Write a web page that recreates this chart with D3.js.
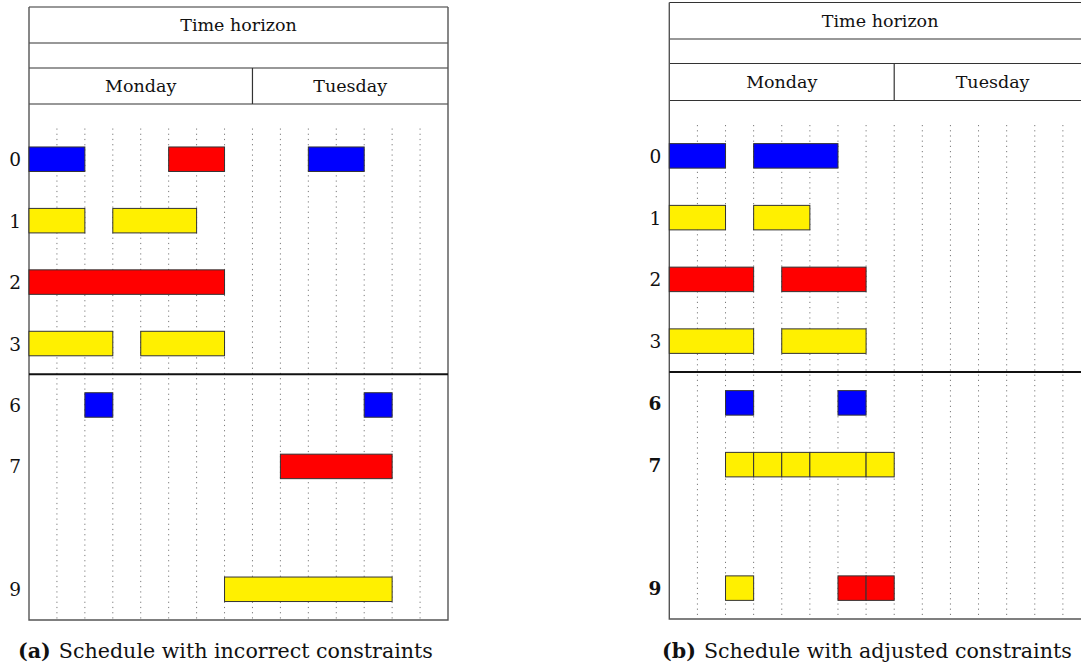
<!DOCTYPE html>
<html>
<head>
<meta charset="utf-8">
<script src="https://cdn.jsdelivr.net/npm/d3@7/dist/d3.min.js"></script>
<style>
  html, body { margin: 0; padding: 0; background: #fff; }
  svg { display: block; }
</style>
</head>
<body>
<div id="chart"></div>
<script>
/* ── Data ────────────────────────────────────────────────────────────── */
const SLOT_COUNT = 15;                       // time slots over the horizon
const DAYS       = ["Monday", "Tuesday"];
const DAY_SLOTS  = [8, 7];                   // slots per day
const ROW_ORDER  = ["0", "1", "2", "3", "6", "7", "8", "9"];   // "8" is an empty row
const ROW_LABELS = ["0", "1", "2", "3", "6", "7", "9"];
const SPLIT_BEFORE = "6";                    // thick line between groups

// [row, startSlot, endSlot, kind]
const TASKS_A = [
  ["0", 0, 2, "blue"], ["0", 5, 7, "red"], ["0", 10, 12, "blue"],
  ["1", 0, 2, "yellow"], ["1", 3, 6, "yellow"],
  ["2", 0, 7, "red"],
  ["3", 0, 3, "yellow"], ["3", 4, 7, "yellow"],
  ["6", 2, 3, "blue"], ["6", 12, 13, "blue"],
  ["7", 9, 13, "red"],
  ["9", 7, 13, "yellow"]
];
const TASKS_B = [
  ["0", 0, 2, "blue"], ["0", 3, 6, "blue"],
  ["1", 0, 2, "yellow"], ["1", 3, 5, "yellow"],
  ["2", 0, 3, "red"], ["2", 4, 7, "red"],
  ["3", 0, 3, "yellow"], ["3", 4, 7, "yellow"],
  ["6", 2, 3, "blue"], ["6", 6, 7, "blue"],
  ["7", 2, 3, "yellow"], ["7", 3, 4, "yellow"], ["7", 4, 5, "yellow"],
  ["7", 5, 7, "yellow"], ["7", 7, 8, "yellow"],
  ["9", 2, 3, "yellow"], ["9", 6, 7, "red"], ["9", 7, 8, "red"]
];
const CAPTION_A = ["(a)", "Schedule with incorrect constraints"];
const CAPTION_B = ["(b)", "Schedule with adjusted constraints"];

/* ── Setup ───────────────────────────────────────────────────────────── */
const W = 1081, H = 668;
const BAR_H = 24.5;
const FONT = 17.5;
const CAP_FONT = 20.6;
const SERIF = "'DejaVu Serif', serif";

const kindColor = d3.scaleOrdinal()
  .domain(["blue", "red", "yellow"])
  .range(["#0000ff", "#ff0000", "#fff000"]);

const svg = d3.select("#chart").append("svg")
  .attr("width", W).attr("height", H)
  .attr("viewBox", `0 0 ${W} ${H}`)
  .attr("font-family", SERIF)
  .style("font-family", SERIF);

function drawPanel(p) {
  const g = svg.append("g");
  const x = d3.scaleLinear().domain([0, SLOT_COUNT]).range([p.x0, p.x1]);
  const y = d3.scaleBand().domain(ROW_ORDER).range([p.gridTop, p.bottom]).padding(0);
  const yc = r => y(r) + y.bandwidth() / 2;

  // dotted slot lines
  g.append("g").selectAll("line")
    .data(d3.range(1, SLOT_COUNT))
    .join("line")
      .attr("x1", d => x(d)).attr("x2", d => x(d))
      .attr("y1", p.gridTop).attr("y2", p.bottom)
      .attr("stroke", "#7a7a7a").attr("stroke-width", 1)
      .attr("stroke-dasharray", "1.2,4");

  // header rows
  const hl = [p.top, p.h1, p.h2, p.h3];
  g.append("g").selectAll("line")
    .data(hl)
    .join("line")
      .attr("x1", p.x0).attr("x2", p.x1)
      .attr("y1", d => d).attr("y2", d => d)
      .attr("stroke", "#333").attr("stroke-width", 1.2);

  // day divider + labels
  const dayStart = d3.cumsum([0].concat(DAY_SLOTS));
  g.append("g").selectAll("line")
    .data(dayStart.slice(1, -1))
    .join("line")
      .attr("x1", d => x(d)).attr("x2", d => x(d))
      .attr("y1", p.h2).attr("y2", p.h3)
      .attr("stroke", "#333").attr("stroke-width", 1.2);

  g.append("g").selectAll("text")
    .data(DAYS)
    .join("text")
      .attr("x", (d, i) => (x(dayStart[i]) + x(dayStart[i + 1])) / 2)
      .attr("y", (p.h2 + p.h3) / 2 + 6)
      .attr("text-anchor", "middle")
      .attr("font-size", FONT)
      .attr("fill", "#111")
      .text(d => d);

  g.append("text")
    .attr("x", (p.x0 + p.x1) / 2)
    .attr("y", (p.top + p.h1) / 2 + 6)
    .attr("text-anchor", "middle")
    .attr("font-size", FONT)
    .attr("fill", "#111")
    .text("Time horizon");

  // outer frame
  g.append("path")
    .attr("d", `M${p.x0},${p.top} V${p.bottom} H${p.x1} V${p.top}`)
    .attr("fill", "none").attr("stroke", "#555").attr("stroke-width", 1.4);

  // group separator
  g.append("line")
    .attr("x1", p.x0).attr("x2", p.x1)
    .attr("y1", y(SPLIT_BEFORE)).attr("y2", y(SPLIT_BEFORE))
    .attr("stroke", "#111").attr("stroke-width", 2.2);

  // bars
  g.append("g").selectAll("rect")
    .data(p.tasks)
    .join("rect")
      .attr("x", d => x(d[1]))
      .attr("y", d => yc(d[0]) - BAR_H / 2)
      .attr("width", d => x(d[2]) - x(d[1]))
      .attr("height", BAR_H)
      .attr("fill", d => kindColor(d[3]))
      .attr("stroke", "#333").attr("stroke-width", 1);

  // row labels
  g.append("g").selectAll("text")
    .data(ROW_LABELS)
    .join("text")
      .attr("x", p.x0 - 8)
      .attr("y", d => yc(d) + 7)
      .attr("text-anchor", "end")
      .attr("font-size", FONT + 1)
      .attr("fill", "#111")
      .attr("font-weight", d => p.boldRows.includes(d) ? "bold" : "normal")
      .text(d => d);

  // caption
  const cap = g.append("text")
    .attr("x", p.capX)
    .attr("y", 658)
    .attr("font-size", CAP_FONT)
    .attr("fill", "#111");
  cap.append("tspan").attr("font-weight", "bold").text(p.caption[0]);
  cap.append("tspan").attr("dx", 8).text(p.caption[1]);
}

drawPanel({
  x0: 29, x1: 448, top: 7, h1: 43, h2: 68, h3: 104,
  gridTop: 128.5, bottom: 620,
  tasks: TASKS_A, boldRows: [], caption: CAPTION_A, capX: 18
});
drawPanel({
  x0: 669.3, x1: 1091, top: 2.5, h1: 39, h2: 63.5, h3: 100.5,
  gridTop: 125, bottom: 619,
  tasks: TASKS_B, boldRows: ["6", "7", "9"], caption: CAPTION_B, capX: 662
});
</script>
</body>
</html>
